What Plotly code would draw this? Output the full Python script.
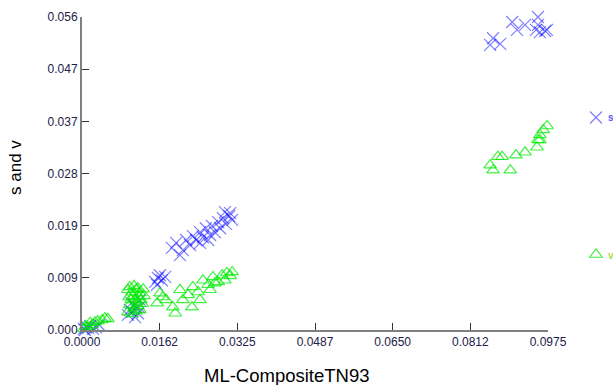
import plotly.graph_objects as go

# ---- data ----
s_x = [0.0004, 0.0006, 0.0008, 0.0013, 0.0017, 0.0023, 0.0029, 0.0036,
       0.0096, 0.0100, 0.0105, 0.0109, 0.0113, 0.0117, 0.0121, 0.0103, 0.0111, 0.0119,
       0.0153, 0.0159, 0.0163, 0.0167, 0.0157, 0.0174,
       0.0188, 0.0197, 0.0205, 0.0211, 0.0218, 0.0226, 0.0232, 0.0239, 0.0247, 0.0253,
       0.0259, 0.0268, 0.0272, 0.0278, 0.0285, 0.0289, 0.0295, 0.0301, 0.0308, 0.0314,
       0.0299, 0.0310, 0.0247, 0.0264,
       0.0854, 0.0860, 0.0875, 0.0900, 0.0910, 0.0927, 0.0954, 0.0954, 0.0958, 0.0969,
       0.0973, 0.0950]
s_y = [0.0002, 0.0000, 0.0005, 0.0004, 0.0007, 0.0002, 0.0005, 0.0009,
       0.0027, 0.0036, 0.0032, 0.0045, 0.0039, 0.0030, 0.0054, 0.0048, 0.0023, 0.0041,
       0.0086, 0.0093, 0.0098, 0.0089, 0.0081, 0.0095,
       0.0147, 0.0156, 0.0134, 0.0143, 0.0161, 0.0152, 0.0168, 0.0161, 0.0175, 0.0166,
       0.0182, 0.0170, 0.0186, 0.0175, 0.0193, 0.0182, 0.0200, 0.0190, 0.0204, 0.0197,
       0.0211, 0.0209, 0.0156, 0.0161,
       0.0510, 0.0522, 0.0512, 0.0551, 0.0537, 0.0546, 0.0560, 0.0546, 0.0533, 0.0535,
       0.0537, 0.0537]

v_x = [0.0004, 0.0008, 0.0013, 0.0017, 0.0021, 0.0027, 0.0033, 0.0042, 0.0048, 0.0054,
       0.0096, 0.0100, 0.0105, 0.0109, 0.0113, 0.0117, 0.0121, 0.0098, 0.0103, 0.0107,
       0.0111, 0.0115, 0.0119, 0.0123, 0.0100, 0.0109, 0.0117, 0.0126, 0.0128, 0.0096,
       0.0105, 0.0113, 0.0121, 0.0130,
       0.0157, 0.0163, 0.0169, 0.0176, 0.0190, 0.0195, 0.0205, 0.0211, 0.0222, 0.0230,
       0.0232, 0.0243, 0.0253, 0.0264, 0.0274, 0.0285, 0.0293, 0.0303, 0.0310, 0.0314,
       0.0247, 0.0268, 0.0278, 0.0299,
       0.0854, 0.0860, 0.0870, 0.0879, 0.0896, 0.0908, 0.0927, 0.0952, 0.0954, 0.0958,
       0.0965, 0.0973, 0.0958]
v_y = [0.0002, 0.0007, 0.0005, 0.0013, 0.0009, 0.0014, 0.0016, 0.0018, 0.0021, 0.0020,
       0.0072, 0.0077, 0.0068, 0.0079, 0.0072, 0.0075, 0.0066, 0.0059, 0.0054, 0.0061,
       0.0055, 0.0050, 0.0059, 0.0054, 0.0045, 0.0039, 0.0043, 0.0047, 0.0073, 0.0032,
       0.0029, 0.0034, 0.0036, 0.0061,
       0.0048, 0.0066, 0.0059, 0.0054, 0.0041, 0.0030, 0.0072, 0.0054, 0.0063, 0.0041,
       0.0077, 0.0068, 0.0089, 0.0081, 0.0095, 0.0086, 0.0098, 0.0102, 0.0097, 0.0104,
       0.0054, 0.0072, 0.0084, 0.0089,
       0.0295, 0.0286, 0.0310, 0.0310, 0.0286, 0.0313, 0.0318, 0.0327, 0.0340, 0.0349,
       0.0358, 0.0365, 0.0340]

series_names = ["s", "v"]
x_ticks = [0.0, 0.01625, 0.0325, 0.04875, 0.065, 0.08125, 0.0975]
x_labels = ["0.0000", "0.0162", "0.0325", "0.0487", "0.0650", "0.0812", "0.0975"]
y_ticks = [0.0, 0.056 / 6, 0.056 * 2 / 6, 0.028, 0.056 * 4 / 6, 0.056 * 5 / 6, 0.056]
y_labels = ["0.000", "0.009", "0.019", "0.028", "0.037", "0.047", "0.056"]

fig = go.Figure()
fig.add_trace(go.Scatter(
    x=s_x, y=s_y, mode="markers", name=" ",
    legendgroup="s", cliponaxis=False,
    marker=dict(symbol="x-thin", size=12, line=dict(color="rgba(0,0,255,0.5)", width=1.2),
                color="rgba(0,0,255,0.5)")))
fig.add_trace(go.Scatter(
    x=v_x, y=v_y, mode="markers", name=" ",
    legendgroup="v", cliponaxis=False,
    marker=dict(symbol="triangle-up-open", size=11, line=dict(color="rgba(0,235,0,0.75)", width=1.2),
                color="rgba(0,235,0,0.75)")))

axis_common = dict(showgrid=False, zeroline=False, showline=True, linecolor="#808080",
                   linewidth=2, ticks="inside", ticklen=7, tickcolor="#333333", tickwidth=1,
                   tickfont=dict(family="Liberation Sans, Arial", size=12, color="#202048"))
fig.update_xaxes(range=[0, 0.0975], tickvals=x_ticks, ticktext=x_labels, **axis_common)
fig.update_yaxes(range=[0, 0.056], tickvals=y_ticks, ticktext=y_labels, **axis_common)

fig.add_annotation(text="ML-CompositeTN93", xref="paper", yref="paper", x=(287 - 82) / 466,
                   y=-(375 - 330) / 313, xanchor="center", yanchor="middle", showarrow=False,
                   font=dict(family="Liberation Sans, Arial", size=18.5, color="#000000"))
fig.add_annotation(text="s and v", xref="paper", yref="paper", x=-(82 - 15) / 466,
                   y=(330 - 168) / 313, xanchor="center", yanchor="middle", showarrow=False,
                   textangle=-90,
                   font=dict(family="Liberation Sans, Arial", size=17, color="#000000"))
# legend labels
fig.add_annotation(text="<b>" + series_names[0] + "</b>", xref="paper", yref="paper",
                   x=(606 - 82) / 466, y=(330 - 118) / 313, xanchor="left", yanchor="middle",
                   showarrow=False,
                   font=dict(family="Liberation Sans, Arial", size=10, color="#5a5aff"))
fig.add_annotation(text="<b>" + series_names[1] + "</b>", xref="paper", yref="paper",
                   x=(606 - 82) / 466, y=(330 - 255) / 313, xanchor="left", yanchor="middle",
                   showarrow=False,
                   font=dict(family="Liberation Sans, Arial", size=10, color="#a8e050"))

fig.update_layout(
    width=613, height=385, margin=dict(l=82, r=65, t=17, b=55, autoexpand=False),
    paper_bgcolor="white", plot_bgcolor="white",
    showlegend=True,
    legend=dict(x=(576 - 82) / 466, y=(330 - 103) / 313, xanchor="left", yanchor="top",
                tracegroupgap=118, font=dict(family="Liberation Sans, Arial", size=10),
                bgcolor="rgba(0,0,0,0)", itemwidth=30),
)
fig.write_html("out.html")
